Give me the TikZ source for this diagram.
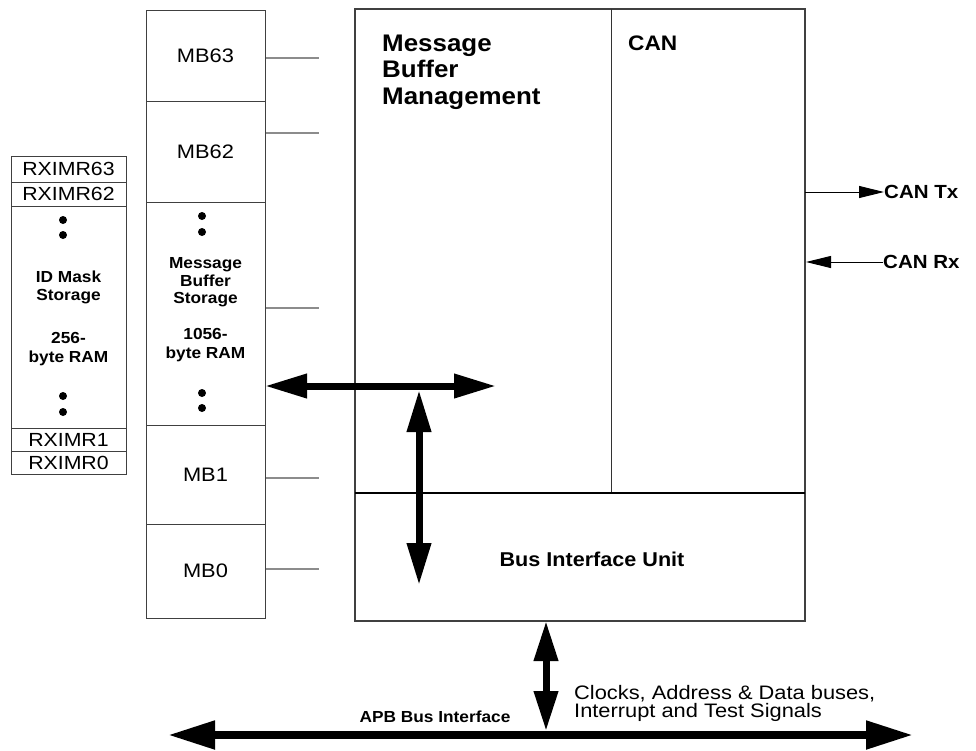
\documentclass[tikz,border=0pt]{standalone}
\usepackage{fontspec}
\setmainfont{Liberation Sans}
\newfontfamily\regw[FakeStretch=1.12]{Liberation Sans}
\newfontfamily\boldw[FakeStretch=1.08]{Liberation Sans}
\usetikzlibrary{arrows.meta}
\newcommand{\myfs}[2]{\fontsize{#1}{#2}\selectfont}
\begin{document}
\begin{tikzpicture}[x=1pt,y=-1pt,
  rxcell/.style={draw=black!75, line width=1pt, inner sep=0pt, minimum width=115pt, font=\regw\myfs{19}{21}},
  mbcell/.style={draw=black!75, line width=1pt, inner sep=0pt, minimum width=119pt, font=\regw\myfs{19.5}{21}},
  tickline/.style={draw=black!45, line width=1.8pt},
  bigarrow/.style={line width=7pt, {Triangle[length=42pt,width=23pt]}-{Triangle[length=42pt,width=23pt]}},
  busarrow/.style={line width=8pt, {Triangle[length=47pt,width=27pt]}-{Triangle[length=47pt,width=27pt]}},
  thinarrow/.style={line width=0.9pt, -{Triangle[length=25pt,width=12pt]}},
  bsmall/.style={font=\boldw\bfseries\myfs{16}{18.5}, align=center, inner sep=0pt},
  regtxt/.style={font=\regw\myfs{19.5}{18}, align=left, inner sep=0pt},
  dotmark/.style={fill=black}
]
\useasboundingbox (0,0) rectangle (976,750);

% ---------- ID mask column ----------
\node[rxcell, minimum height=26pt] (r63) at (68.5,169) {RXIMR63};
\node[rxcell, minimum height=24pt] (r62) at (68.5,194) {RXIMR62};
\node[rxcell, minimum height=222pt] (rmid) at (68.5,317) {};
\node[rxcell, minimum height=23pt] (r1) at (68.5,439.5) {RXIMR1};
\node[rxcell, minimum height=23pt] (r0) at (68.5,462.5) {RXIMR0};
\fill[dotmark] (63,220) circle (4pt);
\fill[dotmark] (63,235) circle (4pt);
\fill[dotmark] (63,396) circle (4pt);
\fill[dotmark] (63,412) circle (4pt);
\node[bsmall] (idm) at (68.5,287.5) {ID Mask\\Storage};
\node[bsmall] (idram) at (68.5,349) {256-\\byte RAM};

% ---------- Message buffer column ----------
\node[mbcell, minimum height=91pt] (mb63) at (205.5,55.5) {MB63};
\node[mbcell, minimum height=101pt] (mb62) at (205.5,151.5) {MB62};
\node[mbcell, minimum height=223pt] (mbmid) at (205.5,313.5) {};
\node[mbcell, minimum height=99pt] (mb1) at (205.5,474.5) {MB1};
\node[mbcell, minimum height=94pt] (mb0) at (205.5,571) {MB0};
\fill[dotmark] (202,216) circle (4pt);
\fill[dotmark] (202,232) circle (4pt);
\fill[dotmark] (202,393) circle (4pt);
\fill[dotmark] (202,408) circle (4pt);
\node[bsmall, font=\boldw\bfseries\myfs{16}{17.5}] (mbs) at (205.5,282.5) {Message\\Buffer\\Storage};
\node[bsmall, font=\boldw\bfseries\myfs{16}{19.5}] (mbram) at (205.5,345) {1056-\\byte RAM};

% ticks
\coordinate (t63a) at (266,58);  \coordinate (t63b) at (319,58);
\coordinate (t62a) at (266,133); \coordinate (t62b) at (319,133);
\coordinate (tmda) at (266,308); \coordinate (tmdb) at (319,308);
\coordinate (t1a)  at (266,478); \coordinate (t1b)  at (319,478);
\coordinate (t0a)  at (266,569); \coordinate (t0b)  at (319,569);
\draw[tickline] (t63a) -- (t63b);
\draw[tickline] (t62a) -- (t62b);
\draw[tickline] (tmda) -- (tmdb);
\draw[tickline] (t1a) -- (t1b);
\draw[tickline] (t0a) -- (t0b);

% ---------- Main block ----------
\node[draw=black!75, line width=1.1pt, minimum width=450pt, minimum height=612pt, inner sep=0pt] (main) at (580,315) {};
\coordinate (divtop) at (611,9);
\coordinate (divbot) at (611,493);
\coordinate (hl) at (355,493);
\coordinate (hr) at (805,493);
\draw[black!80, line width=1pt] (divtop) -- (divbot);
\draw[black, line width=1.5pt] (hl) -- (hr);

\node[font=\boldw\bfseries\myfs{24}{26.5}, align=left, anchor=west, inner sep=0pt] (mbm) at (382,72) {Message\\Buffer\\Management};
\node[font=\boldw\bfseries\myfs{21}{24}, anchor=west, inner sep=0pt] (can) at (628,43) {CAN};
\node[font=\boldw\bfseries\myfs{20}{24}, inner sep=0pt] (biu) at (592,559) {Bus Interface Unit};

% CAN Tx / Rx
\coordinate (txs) at (805,192);
\node[font=\boldw\bfseries\myfs{19}{22}, anchor=west, inner sep=0pt] (tx) at (884,192) {CAN Tx};
\draw[thinarrow] (txs) -- (tx.west);
\coordinate (rxe) at (806,262);
\node[font=\boldw\bfseries\myfs{19}{22}, anchor=west, inner sep=0pt] (rx) at (883,262) {CAN Rx};
\draw[thinarrow] (rx.west) -- (rxe);

% internal bus arrows
\coordinate (hbl) at (265,386);
\coordinate (hbr) at (496,386);
\coordinate (vbt) at (419,390);
\coordinate (vbb) at (419,585);
\draw[bigarrow] (hbl) -- (hbr);
\draw[bigarrow] (vbt) -- (vbb);

% APB bus
\coordinate (busl) at (168,735);
\coordinate (busr) at (913,735);
\coordinate (bj) at (546,731);
\coordinate (bt) at (546,621);
\draw[busarrow] (busl) -- (busr);
\draw[line width=7pt, {Triangle[length=40pt,width=23pt]}-{Triangle[length=40pt,width=23pt]}] (bt) -- (bj);

\node[font=\boldw\bfseries\myfs{16}{18}, inner sep=0pt] (apb) at (435,717) {APB Bus Interface};
\node[regtxt, anchor=west] (clk) at (574,703) {Clocks, Address \& Data buses,\\Interrupt and Test Signals};
\end{tikzpicture}
\end{document}
